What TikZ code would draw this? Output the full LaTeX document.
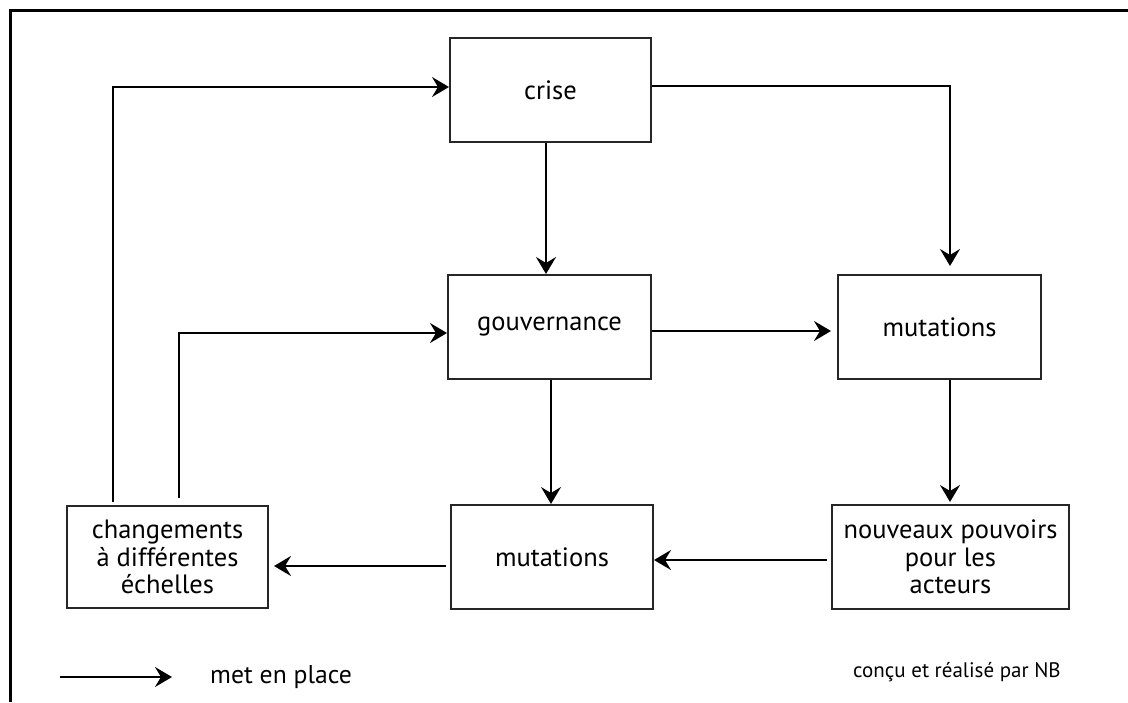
\documentclass[tikz,border=0pt]{standalone}
\usepackage{fontspec}
\setmainfont{PT Sans}
\usetikzlibrary{arrows.meta}
\begin{document}
\begin{tikzpicture}[x=1pt,y=-1pt,
  box/.style={draw=black!85,line width=2pt,minimum width=#1,minimum height=104pt,
    inner sep=0pt,align=center,font=\fontsize{26.5}{27.5}\selectfont},
  box/.default=201pt,
  conn/.style={line width=2pt,-{Stealth[length=17pt,width=20pt,inset=6pt]}},
  plain/.style={line width=2pt}]
\useasboundingbox (0,0) rectangle (1128,702);
\draw[line width=3pt] (10.5,702) -- (10.5,10.5) -- (1128,10.5);
% nodes
\node[box] (crise) at (550.5,90) {crise};
\node[box=203pt] (gouv) at (549.5,327) {gouvernance};
\node[box=203pt] (mutR) at (939.5,327) {mutations};
\node[box=202pt] (mutB) at (552,557) {mutations};
\node[box=201pt,minimum height=102pt] (chg) at (167.5,557) {changements\\à différentes\\échelles};
\node[box=237pt] (nouv) at (950.5,557) {nouveaux pouvoirs\\pour les\\acteurs};
% helper coordinates
\coordinate (c1) at (950,86);
\coordinate (l1) at (113,502);
\coordinate (l1t) at (113,87);
\coordinate (l2) at (179,498);
\coordinate (l2t) at (179,333);
% connectors
\draw[conn,shorten >=8pt] (crise.east |- c1) -- (c1) -- (c1 |- mutR.north);
\draw[conn] (crise.south -| 546,0) -- (gouv.north -| 546,0);
\draw[conn,shorten >=6pt] (gouv.east |- 0,331) -- (mutR.west |- 0,331);
\draw[conn] (gouv.south -| 551,0) -- (mutB.north -| 551,0);
\draw[conn,shorten >=2pt] (mutR.south -| c1) -- (nouv.north -| c1);
\draw[conn,shorten <=4pt] (nouv.west |- 0,560) -- (mutB.east |- 0,560);
\draw[conn,shorten <=4pt,shorten >=5pt] (mutB.west |- 0,566) -- (chg.east |- 0,566);
\draw[conn] (l1) -- (l1t) -- (crise.west |- l1t);
\draw[conn] (l2) -- (l2t) -- (gouv.west |- l2t);
% legend
\coordinate (la) at (60,677);
\coordinate (lb) at (172,677);
\draw[conn] (la) -- (lb);
\node[anchor=west,inner sep=0pt,font=\fontsize{25.7}{30}\selectfont] (leg) at (210,677) {met en place};
\node[anchor=west,inner sep=0pt,font=\fontsize{21}{25}\selectfont] (credit) at (853,672) {conçu et réalisé par NB};
\end{tikzpicture}
\end{document}
